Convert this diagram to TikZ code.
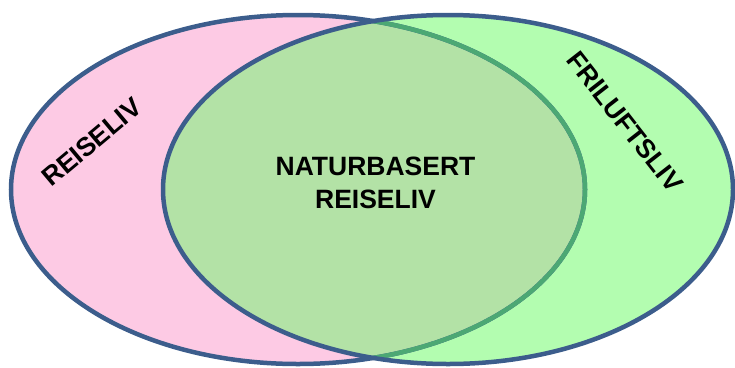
\documentclass[tikz,border=0pt]{standalone}
\usepackage{fontspec}
\setmainfont{Liberation Sans}
\definecolor{pinkfill}{HTML}{FDCAE4}
\definecolor{greenfill}{HTML}{B3FDB0}
\definecolor{overlapfill}{HTML}{B3E2A6}
\definecolor{edgeblue}{HTML}{3C5D8C}
\definecolor{edgegreen}{HTML}{4CA874}
\begin{document}
\begin{tikzpicture}[x=1pt,y=-1pt,
  lbl/.style={font=\fontsize{26.5}{33}\selectfont\bfseries, text=black, align=center, inner sep=0pt},
  edge/.style={line width=4.5pt}]
\useasboundingbox (0,0) rectangle (735,367);
\def\leftell{(298,189.5) ellipse [x radius=287, y radius=174.5]}
\def\rightell{(448,189.5) ellipse [x radius=285, y radius=174.5]}
% fills
\fill[pinkfill] \leftell;
\fill[greenfill] \rightell;
\begin{scope}
  \clip \leftell;
  \fill[overlapfill] \rightell;
\end{scope}
% outlines
\draw[edge, edgeblue] \leftell;
\begin{scope}
  \clip \rightell;
  \draw[edge, edgegreen] \leftell;
\end{scope}
\draw[edge, edgeblue] \rightell;
% labels
\node[lbl] (center) at (375.5,183) {NATURBASERT\\REISELIV};
\node[lbl, rotate=40] (left) at (92,142) {REISELIV};
\node[lbl, rotate=-52] (right) at (625,122) {FRILUFTSLIV};
\end{tikzpicture}
\end{document}
